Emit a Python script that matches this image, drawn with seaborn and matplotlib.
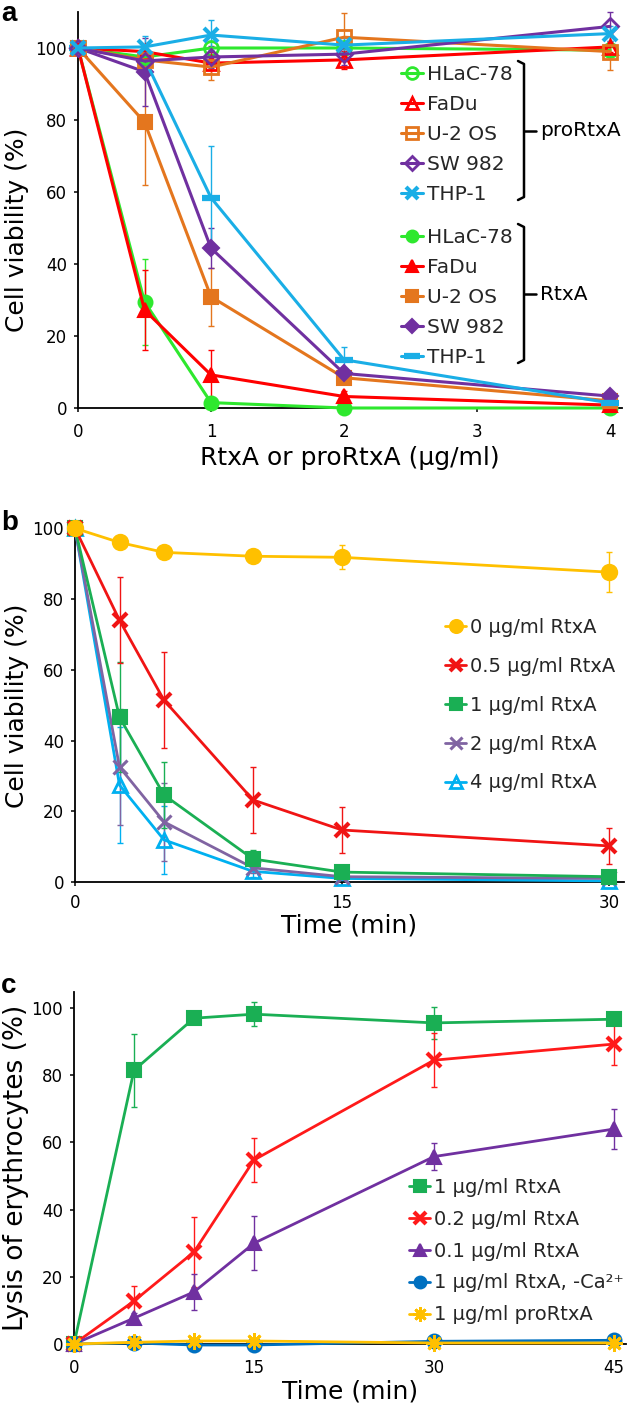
import matplotlib
matplotlib.use("Agg")
import matplotlib.pyplot as plt
import seaborn as sns
from matplotlib.lines import Line2D

sns.set_theme(style="ticks")
plt.rcParams['font.family'] = ['DejaVu Sans']

# ---------------- data ----------------
# Panel a: concentration (ug/ml)
conc_a = [0, 0.5, 1, 2, 4]
cell_lines = ["HLaC-78", "FaDu", "U-2 OS", "SW 982", "THP-1"]
pro_hlac = [100, 97.5, 100, 100, 99.4]
pro_fadu = [100, 99, 95.8, 96.7, 100.3]
pro_u2os = [100, 96.7, 94.7, 103, 99]
pro_sw982 = [100, 96.4, 97.5, 98.3, 106]
pro_thp1 = [100, 100.3, 103.6, 100.8, 104]
pro_hlac_err = [0, 1.5, 2, 1, 1]
pro_fadu_err = [0, 1.5, 3, 2.5, 1.5]
pro_u2os_err = [0, 2, 3.5, 6.7, 5]
pro_sw982_err = [0, 3, 3, 3, 4]
pro_thp1_err = [0, 3, 4.2, 2, 2]
rtx_hlac = [100, 29.5, 1.5, 0, 0]
rtx_fadu = [100, 27.2, 9.2, 3.2, 0.8]
rtx_u2os = [100, 79.4, 30.9, 8.4, 2]
rtx_sw982 = [100, 93.4, 44.4, 9.6, 3.3]
rtx_thp1 = [100, 97, 58.4, 13.4, 1.4]
rtx_hlac_err = [0, 12, 1, 0.3, 0.3]
rtx_fadu_err = [0, 11, 7, 1.5, 0.5]
rtx_u2os_err = [0, 17.5, 8, 1, 0.5]
rtx_sw982_err = [0, 9.5, 5.5, 1, 0.5]
rtx_thp1_err = [0, 4, 14.5, 3.5, 0.5]

# Panel b: time (min)
time_b = [0, 2.5, 5, 10, 15, 30]
labels_b = ["0 μg/ml RtxA", "0.5 μg/ml RtxA", "1 μg/ml RtxA", "2 μg/ml RtxA", "4 μg/ml RtxA"]
b_0 = [100, 96, 93.2, 92.1, 91.8, 87.6]
b_05 = [100, 74, 51.4, 23.2, 14.7, 10.2]
b_1 = [100, 46.6, 24.6, 6.5, 2.8, 1.5]
b_2 = [100, 32.5, 17, 4, 1.5, 1]
b_4 = [100, 27.4, 11.9, 3, 1, 0.3]
b_0_err = [0, 1, 1, 1.5, 3.4, 5.6]
b_05_err = [0, 12.2, 13.6, 9.3, 6.5, 5.1]
b_1_err = [0, 15.5, 9.3, 2.5, 1, 0.5]
b_2_err = [0, 16.5, 11, 1.5, 0.5, 0.5]
b_4_err = [0, 16.4, 9.6, 1.5, 0.5, 0.3]

# Panel c: time (min)
time_c = [0, 5, 10, 15, 30, 45]
labels_c = ["1 μg/ml RtxA", "0.2 μg/ml RtxA", "0.1 μg/ml RtxA",
            "1 μg/ml RtxA, -Ca²⁺", "1 μg/ml proRtxA"]
c_1 = [0, 81.5, 97, 98.2, 95.6, 96.7]
c_02 = [0, 12.8, 27.4, 54.8, 84.5, 89.3]
c_01 = [0, 7.7, 15.5, 30, 55.8, 64]
c_ca = [0, 0.3, -0.3, -0.3, 0.8, 1.1]
c_pro = [0, 0.5, 0.9, 0.9, 0.3, 0.3]
c_1_err = [0, 10.8, 1.5, 3.6, 4.7, 1.5]
c_02_err = [0, 4.4, 10.4, 6.5, 8, 6.3]
c_01_err = [0, 1.5, 5.3, 8, 4, 6]
c_ca_err = [0, 0.3, 0.3, 0.3, 0.3, 0.3]
c_pro_err = [0, 0.3, 0.3, 0.3, 0.3, 0.3]

# ---------------- layout ----------------
W, H = 629, 1407
fig = plt.figure(figsize=(W / 100, H / 100), dpi=100)


def px_axes(left, top, right, bottom):
    return fig.add_axes([left / W, 1 - bottom / H, (right - left) / W, (bottom - top) / H])


def fx(x):
    return x / W


def fy(y):
    return 1 - y / H


def series(ax, x, y, err, color, marker, ms=10, mfc=None, mew=1.5, lw=2.0, z=3):
    sns.lineplot(x=x, y=y, ax=ax, color=color, marker=marker, markersize=ms,
                 markerfacecolor=(color if mfc is None else mfc),
                 markeredgecolor=color, markeredgewidth=mew, linewidth=lw,
                 errorbar=None, sort=False, clip_on=False, zorder=z)
    line = ax.lines[-1]
    ax.errorbar(x, y, yerr=err, fmt='none', ecolor=color, elinewidth=1.0,
                capsize=2, capthick=1.0, clip_on=False, zorder=z - 0.5)
    return line


def style_axes(ax, xlim, ylim, xticks, yticks, xpad, label_size=12):
    ax.set_xlim(*xlim)
    ax.set_ylim(*ylim)
    ax.set_xticks(xticks)
    ax.set_yticks(yticks)
    sns.despine(ax=ax)
    for s in ("left", "bottom"):
        ax.spines[s].set_linewidth(1.3)
        ax.spines[s].set_color("black")
    ax.tick_params(axis='both', labelsize=label_size, length=3, width=1.1, colors='black')
    ax.tick_params(axis='x', pad=xpad)
    ax.tick_params(axis='y', pad=5)
    ax.set_facecolor("white")


leg_kw = dict(loc="upper left", bbox_transform=fig.transFigure, frameon=False,
              borderpad=0, borderaxespad=0, handlelength=1.1, handletextpad=0.2,
              numpoints=1, markerscale=0.85)

# ---------------- panel a ----------------
ax_a = px_axes(78, 12, 622, 408)
col_a = ["#2ee82e", "#ff0000", "#e4761e", "#7030a0", "#1aaee6"]
pro_vals = [pro_hlac, pro_fadu, pro_u2os, pro_sw982, pro_thp1]
pro_errs = [pro_hlac_err, pro_fadu_err, pro_u2os_err, pro_sw982_err, pro_thp1_err]
rtx_vals = [rtx_hlac, rtx_fadu, rtx_u2os, rtx_sw982, rtx_thp1]
rtx_errs = [rtx_hlac_err, rtx_fadu_err, rtx_u2os_err, rtx_sw982_err, rtx_thp1_err]
pro_markers = ["o", "^", "s", "D", "x"]
rtx_markers = ["o", "^", "s", "D", "_"]

rtx_handles = []
for i in range(5):
    ms = 10 if rtx_markers[i] != "D" else 8
    mew = 1.5 if rtx_markers[i] != "_" else 4.5
    if rtx_markers[i] == "_":
        ms = 13
    rtx_handles.append(series(ax_a, conc_a, rtx_vals[i], rtx_errs[i], col_a[i],
                              rtx_markers[i], ms=ms, mew=mew, lw=2.2, z=3))
pro_handles = []
for i in range(5):
    mk = pro_markers[i]
    ms = 10 if mk != "D" else 8
    mfc = "none" if mk != "x" else None
    mew = 2.0 if mk != "x" else 3.0
    pro_handles.append(series(ax_a, conc_a, pro_vals[i], pro_errs[i], col_a[i],
                              mk, ms=ms, mfc=mfc, mew=mew, lw=2.2, z=4))

style_axes(ax_a, (0, 4.09), (0, 110), [0, 1, 2, 3, 4], [0, 20, 40, 60, 80, 100], xpad=8)
ax_a.set_xlabel("RtxA or proRtxA (μg/ml)", fontsize=18, color="black")
ax_a.set_ylabel("Cell viability (%)", fontsize=18, color="black")
ax_a.xaxis.set_label_coords(0.5, -0.097)
ax_a.yaxis.set_label_coords((29 - 78) / 544, 0.45)

leg1 = ax_a.legend(handles=pro_handles, labels=cell_lines, fontsize=14.5,
                   bbox_to_anchor=(fx(401), fy(65)), labelspacing=0.55, **leg_kw)
ax_a.add_artist(leg1)
leg2 = ax_a.legend(handles=rtx_handles, labels=cell_lines, fontsize=14.5,
                   bbox_to_anchor=(fx(401), fy(228)), labelspacing=0.55, **leg_kw)


def bracket(xb, top, bottom, ymid, text):
    fig.add_artist(Line2D([fx(xb - 6), fx(xb), fx(xb), fx(xb - 6)],
                          [fy(top), fy(top + 3), fy(bottom - 3), fy(bottom)],
                          transform=fig.transFigure, color="black", lw=1.8))
    fig.add_artist(Line2D([fx(xb), fx(xb + 12)], [fy(ymid), fy(ymid)],
                          transform=fig.transFigure, color="black", lw=1.8))
    fig.text(fx(xb + 16), fy(ymid), text, ha="left", va="center", fontsize=14.5,
             color="black")


bracket(524, 61, 200, 131, "proRtxA")
bracket(524, 224, 363, 294, "RtxA")

# ---------------- panel b ----------------
ax_b = px_axes(75, 523, 624, 882)
col_b = ["#ffc000", "#f01414", "#1aaf54", "#8064a2", "#00b0f0"]
vals_b = [b_0, b_05, b_1, b_2, b_4]
errs_b = [b_0_err, b_05_err, b_1_err, b_2_err, b_4_err]
mk_b = ["o", "x", "s", "x", "^"]
hb = []
for i in range(5):
    mfc = "none" if i == 4 else None
    mew = {0: 1.5, 1: 3.0, 2: 1.5, 3: 2.2, 4: 2.0}[i]
    ms = {0: 11, 1: 10, 2: 10, 3: 10, 4: 10}[i]
    hb.append(series(ax_b, time_b, vals_b[i], errs_b[i], col_b[i], mk_b[i],
                     ms=ms, mfc=mfc, mew=mew, lw=2.0, z=3 + 0.1 * (5 - i)))
style_axes(ax_b, (0, 30.84), (0, 101.5), [0, 15, 30], [0, 20, 40, 60, 80, 100], xpad=6)
ax_b.set_xlabel("Time (min)", fontsize=18, color="black")
ax_b.set_ylabel("Cell viability (%)", fontsize=18, color="black")
ax_b.xaxis.set_label_coords(0.5, -0.087)
ax_b.yaxis.set_label_coords((29 - 75) / 549, 0.49)
ax_b.legend(handles=hb, labels=labels_b, fontsize=14,
            bbox_to_anchor=(fx(445), fy(618)), labelspacing=1.02, **leg_kw)

# ---------------- panel c ----------------
ax_c = px_axes(74, 992, 626, 1344)
col_c = ["#1aaf54", "#ff1a1a", "#7030a0", "#0070c0", "#ffc000"]
vals_c = [c_1, c_02, c_01, c_ca, c_pro]
errs_c = [c_1_err, c_02_err, c_01_err, c_ca_err, c_pro_err]
mk_c = ["s", "x", "^", "o", (8, 2, 0)]
hc = []
for i in range(5):
    mew = {0: 1.5, 1: 3.0, 2: 1.5, 3: 1.5, 4: 2.0}[i]
    ms = 12 if i == 4 else 10
    hc.append(series(ax_c, time_c, vals_c[i], errs_c[i], col_c[i], mk_c[i],
                     ms=ms, mew=mew, lw=2.0, z=3 + 0.1 * i))
style_axes(ax_c, (0, 46), (0, 104.8), [0, 15, 30, 45], [0, 20, 40, 60, 80, 100], xpad=8)
ax_c.set_xlabel("Time (min)", fontsize=18, color="black")
ax_c.set_ylabel("Lysis of erythrocytes (%)", fontsize=19, color="black")
ax_c.xaxis.set_label_coords(0.5, -0.1)
ax_c.yaxis.set_label_coords((29 - 74) / 552, 0.5)
ax_c.legend(handles=hc, labels=labels_c, fontsize=14,
            bbox_to_anchor=(fx(409), fy(1178)), labelspacing=0.66, **leg_kw)

# panel letters
for letter, yb in (("a", 21), ("b", 530), ("c", 993)):
    fig.text(fx(1), fy(yb), letter, fontsize=20, fontweight="bold", va="baseline",
             ha="left", family=["Liberation Sans", "DejaVu Sans"], color="black")

fig.savefig("out.png", dpi=100, facecolor="white")
